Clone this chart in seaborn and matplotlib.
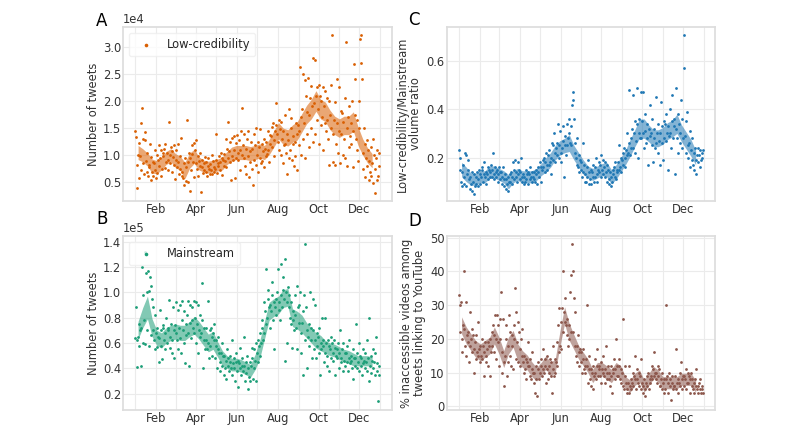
import pandas as pd
import numpy as np
import matplotlib
matplotlib.use('Agg')
import matplotlib.pyplot as plt
import matplotlib.dates as mdates
from matplotlib.ticker import MultipleLocator
import seaborn as sns

# daily values, one row per week starting Wed 2020-01-01
# A: low-credibility tweets, in hundreds
lowcred_daily = [
    145, 133, 82, 40, 100, 122, 58,
    98, 160, 72, 188, 130, 85, 66,
    128, 142, 90, 70, 105, 62, 82,
    78, 120, 55, 96, 70, 88, 62,
    85, 110, 72, 58, 100, 68, 92,
    80, 118, 95, 62, 110, 74, 105,
    98, 112, 76, 120, 88, 105, 72,
    92, 162, 100, 85, 115, 70, 108,
    96, 82, 118, 57, 92, 110, 78,
    88, 120, 65, 98, 75, 132, 62,
    70, 58, 85, 45, 95, 52, 78,
    165, 88, 50, 105, 35, 95, 72,
    102, 118, 88, 122, 60, 110, 128,
    85, 75, 98, 62, 90, 105, 80,
    33, 78, 92, 68, 85, 72, 96,
    70, 88, 62, 80, 95, 74, 66,
    84, 72, 100, 65, 90, 78, 70,
    75, 92, 140, 68, 85, 80, 98,
    88, 72, 105, 95, 64, 92, 80,
    102, 90, 130, 78, 112, 95, 162,
    108, 88, 125, 55, 98, 132, 92,
    110, 135, 58, 122, 95, 138, 105,
    92, 128, 110, 72, 145, 100, 188,
    118, 95, 140, 80, 112, 65, 130,
    98, 145, 60, 108, 88, 125, 75,
    112, 45, 140, 92, 118, 82, 150,
    100, 125, 70, 115, 95, 148, 85,
    120, 90, 108, 130, 78, 112, 98,
    125, 102, 145, 110, 88, 138, 120,
    135, 152, 115, 160, 128, 98, 145,
    155, 196, 140, 125, 165, 110, 148,
    100, 162, 130, 85, 145, 118, 175,
    120, 105, 140, 65, 128, 185, 95,
    110, 150, 168, 92, 135, 120, 80,
    125, 98, 160, 140, 72, 155, 118,
    145, 262, 170, 100, 185, 250, 130,
    160, 238, 95, 210, 180, 140, 242,
    175, 115, 205, 228, 150, 190, 125,
    280, 196, 275, 140, 210, 225, 165,
    185, 230, 120, 210, 155, 200, 170,
    225, 110, 190, 160, 218, 145, 205,
    165, 130, 200, 82, 175, 150, 230,
    322, 88, 140, 165, 82, 198, 120,
    160, 240, 105, 145, 225, 85, 182,
    140, 178, 100, 162, 130, 205, 95,
    308, 150, 80, 170, 115, 190, 135,
    160, 120, 200, 78, 145, 268, 175,
    240, 130, 110, 165, 90, 200, 150,
    315, 322, 270, 240, 105, 75, 150,
    120, 60, 95, 128, 80, 110, 55,
    90, 70, 115, 62, 85, 130, 48,
    100, 30, 75, 95, 55, 110, 62,
    80, 105,
]

# B: mainstream tweets, in thousands
mainstream_daily = [
    64, 88, 62, 41, 65, 75, 58,
    70, 42, 72, 120, 60, 98, 78,
    132, 59, 115, 100, 70, 117, 58,
    101, 112, 105, 66, 95, 88, 70,
    62, 82, 55, 68, 72, 57, 65,
    64, 45, 86, 70, 58, 47, 72,
    74, 62, 55, 68, 80, 60, 70,
    72, 94, 56, 65, 75, 52, 62,
    88, 70, 48, 74, 68, 92, 62,
    55, 86, 72, 90, 64, 52, 78,
    93, 70, 60, 85, 44, 75, 66,
    82, 93, 68, 42, 76, 90, 64,
    78, 88, 72, 93, 68, 80, 92,
    60, 75, 90, 52, 70, 82, 65,
    68, 107, 78, 40, 62, 72, 55,
    62, 72, 55, 93, 60, 48, 70,
    58, 72, 65, 50, 68, 75, 62,
    48, 62, 58, 40, 55, 65, 52,
    45, 38, 52, 60, 42, 50, 35,
    50, 40, 46, 32, 55, 42, 48,
    38, 45, 50, 40, 62, 35, 44,
    48, 40, 30, 45, 52, 38, 46,
    25, 44, 40, 56, 35, 42, 48,
    38, 65, 42, 30, 45, 36, 50,
    24, 40, 33, 45, 30, 42, 56,
    48, 32, 55, 40, 46, 60, 30,
    52, 62, 45, 58, 68, 50, 60,
    72, 78, 62, 92, 68, 85, 75,
    118, 80, 95, 102, 88, 72, 90,
    85, 98, 108, 78, 92, 55, 88,
    95, 82, 100, 118, 86, 92, 78,
    122, 98, 88, 112, 102, 95, 46,
    126, 100, 92, 60, 104, 98, 88,
    80, 92, 75, 56, 85, 78, 70,
    98, 82, 72, 105, 55, 88, 76,
    90, 100, 68, 52, 76, 85, 35,
    98, 138, 62, 88, 40, 70, 65,
    75, 58, 100, 62, 72, 48, 95,
    70, 55, 90, 62, 48, 68, 58,
    65, 52, 72, 35, 60, 55, 80,
    58, 62, 45, 80, 52, 60, 42,
    50, 62, 58, 38, 55, 65, 48,
    60, 52, 46, 62, 35, 56, 50,
    55, 48, 60, 40, 52, 70, 45,
    48, 55, 38, 60, 46, 52, 42,
    52, 45, 58, 38, 48, 62, 44,
    46, 50, 40, 55, 32, 48, 42,
    48, 75, 40, 52, 45, 60, 38,
    50, 42, 48, 35, 55, 44, 46,
    40, 52, 45, 62, 38, 48, 30,
    80, 42, 50, 36, 46, 55, 40,
    45, 35, 52, 65, 38, 44, 14,
    35, 42,
]

# C: low-credibility / mainstream ratio, in hundredths
ratio_daily = [
    23, 15, 20, 10, 14, 8, 17,
    9, 12, 22, 21, 8, 13, 15,
    19, 11, 7, 12, 9, 14, 6,
    10, 5, 13, 8, 12, 9, 14,
    11, 8, 15, 13, 9, 12, 16,
    15, 10, 13, 18, 12, 9, 14,
    13, 16, 11, 15, 12, 14, 17,
    15, 12, 22, 13, 11, 16, 14,
    12, 15, 10, 13, 16, 11, 14,
    14, 9, 12, 16, 11, 8, 13,
    11, 7, 9, 12, 6, 10, 13,
    10, 14, 12, 9, 18, 11, 15,
    19, 12, 14, 10, 18, 13, 15,
    11, 14, 20, 12, 10, 13, 9,
    12, 10, 15, 11, 13, 9, 14,
    13, 11, 16, 12, 10, 14, 12,
    11, 14, 10, 15, 13, 9, 16,
    14, 12, 18, 16, 10, 15, 19,
    16, 20, 14, 18, 22, 15, 17,
    21, 17, 23, 18, 13, 20, 26,
    19, 25, 30, 22, 18, 24, 21,
    26, 34, 20, 25, 31, 22, 18,
    24, 33, 27, 12, 25, 29, 21,
    34, 25, 28, 30, 36, 26, 33,
    25, 42, 44, 47, 36, 22, 26,
    20, 17, 28, 16, 21, 14, 19,
    15, 18, 12, 26, 14, 17, 10,
    13, 10, 16, 12, 19, 14, 9,
    11, 15, 9, 14, 12, 17, 10,
    16, 12, 20, 13, 10, 15, 18,
    14, 17, 12, 21, 15, 13, 19,
    16, 12, 18, 14, 10, 17, 15,
    11, 9, 14, 8, 12, 10, 15,
    13, 16, 12, 18, 11, 15, 14,
    18, 15, 25, 16, 20, 14, 19,
    22, 17, 24, 20, 16, 23, 21,
    30, 22, 26, 48, 21, 28, 24,
    32, 24, 46, 30, 22, 35, 27,
    49, 34, 20, 30, 36, 28, 47,
    28, 35, 47, 30, 24, 38, 31,
    26, 34, 28, 17, 32, 42, 29,
    30, 25, 36, 18, 28, 32, 24,
    45, 26, 30, 22, 34, 27, 17,
    30, 43, 26, 33, 19, 28, 35,
    34, 27, 38, 30, 15, 33, 29,
    40, 30, 24, 35, 46, 28, 33,
    36, 13, 32, 49, 28, 38, 22,
    34, 26, 30, 44, 24, 36, 28,
    57, 71, 29, 22, 35, 39, 25,
    20, 26, 31, 16, 23, 28, 19,
    17, 22, 15, 24, 19, 13, 21,
    24, 18, 21, 16, 23, 19, 22,
    20, 23,
]

# D: % inaccessible YouTube videos
inaccessible_daily = [
    33, 30, 22, 31, 20, 16, 24,
    40, 23, 18, 31, 15, 21, 19,
    22, 13, 28, 18, 20, 16, 23,
    21, 10, 17, 19, 14, 21, 16,
    15, 25, 17, 13, 18, 15, 20,
    14, 18, 9, 16, 19, 15, 13,
    17, 19, 12, 18, 9, 20, 16,
    22, 18, 24, 16, 21, 27, 20,
    14, 27, 19, 24, 12, 20, 26,
    34, 16, 10, 26, 13, 6, 15,
    20, 24, 9, 18, 13, 27, 15,
    22, 12, 21, 18, 11, 24, 20,
    35, 14, 28, 19, 25, 13, 22,
    17, 12, 20, 15, 23, 13, 10,
    15, 11, 14, 8, 13, 19, 12,
    12, 9, 14, 8, 11, 16, 10,
    7, 10, 4, 12, 8, 3, 11,
    13, 8, 10, 14, 12, 9, 11,
    17, 10, 14, 12, 7, 15, 11,
    8, 12, 10, 14, 9, 13, 4,
    11, 18, 9, 14, 10, 13, 12,
    19, 24, 16, 29, 18, 25, 17,
    29, 40, 22, 28, 25, 32, 24,
    26, 21, 18, 24, 20, 34, 22,
    39, 48, 40, 22, 32, 18, 28,
    15, 18, 13, 21, 16, 12, 17,
    13, 16, 10, 14, 17, 11, 12,
    10, 14, 30, 12, 7, 15, 11,
    8, 11, 6, 10, 5, 12, 9,
    10, 14, 8, 12, 17, 9, 11,
    12, 9, 13, 7, 11, 15, 10,
    9, 11, 7, 18, 10, 8, 12,
    8, 10, 6, 12, 9, 4, 11,
    10, 14, 8, 11, 20, 9, 12,
    9, 12, 14, 8, 11, 7, 10,
    6, 26, 5, 9, 12, 7, 4,
    5, 7, 12, 4, 6, 8, 5,
    7, 10, 6, 9, 15, 8, 5,
    8, 11, 7, 10, 6, 9, 14,
    5, 7, 4, 6, 8, 5, 3,
    7, 9, 6, 10, 5, 8, 7,
    9, 12, 8, 11, 16, 9, 10,
    8, 10, 7, 12, 9, 11, 6,
    6, 8, 5, 10, 7, 4, 8,
    5, 8, 30, 9, 7, 4, 10,
    8, 6, 2, 7, 9, 5, 6,
    6, 9, 5, 17, 7, 8, 4,
    7, 10, 6, 13, 8, 5, 9,
    9, 6, 8, 11, 5, 7, 10,
    7, 9, 4, 8, 10, 6, 8,
    5, 7, 4, 8, 6, 11, 5,
    6, 4, 7, 5, 8, 4, 6,
    5, 4,
]

# weekly band: centre and half width (from 2020-01-05, every 7 days)
lowcred_mid = [1.05, 1.0, 0.92, 0.8, 0.78, 0.85, 0.95, 1.0, 0.9, 0.85,
               0.72, 0.9, 0.98, 0.85, 0.8, 0.78, 0.8, 0.82, 0.85, 0.95,
               1.02, 1.05, 1.05, 1.05, 1.03, 1.05, 1.08, 1.05, 1.15, 1.3,
               1.45, 1.35, 1.32, 1.4, 1.45, 1.6, 1.75, 1.85, 2.0, 1.85,
               1.8, 1.65, 1.55, 1.5, 1.55, 1.55, 1.62, 1.35, 1.15, 1.0, 0.9]
lowcred_hw = [0.13, 0.12, 0.12, 0.13, 0.12, 0.12, 0.12, 0.12, 0.13, 0.13,
              0.15, 0.14, 0.13, 0.12, 0.11, 0.11, 0.11, 0.11, 0.12, 0.12,
              0.13, 0.13, 0.13, 0.13, 0.13, 0.13, 0.13, 0.13, 0.14, 0.15,
              0.15, 0.15, 0.15, 0.16, 0.17, 0.17, 0.17, 0.18, 0.19, 0.18,
              0.18, 0.18, 0.17, 0.17, 0.17, 0.17, 0.18, 0.17, 0.15, 0.14, 0.13]
mainstream_mid = [0.70, 0.80, 0.88, 0.72, 0.64, 0.62, 0.66, 0.68, 0.69, 0.68,
                  0.68, 0.71, 0.74, 0.70, 0.65, 0.60, 0.62, 0.55, 0.48, 0.45,
                  0.43, 0.43, 0.42, 0.40, 0.38, 0.45, 0.55, 0.70, 0.85, 0.88,
                  0.90, 0.95, 0.96, 0.80, 0.78, 0.75, 0.70, 0.66, 0.62, 0.60,
                  0.57, 0.55, 0.54, 0.52, 0.50, 0.49, 0.47, 0.46, 0.46, 0.46, 0.45]
mainstream_hw = [0.07, 0.08, 0.09, 0.07, 0.06, 0.06, 0.06, 0.06, 0.06, 0.06,
                 0.06, 0.06, 0.07, 0.07, 0.07, 0.07, 0.07, 0.06, 0.06, 0.05,
                 0.05, 0.05, 0.05, 0.05, 0.05, 0.06, 0.07, 0.07, 0.07, 0.07,
                 0.07, 0.07, 0.07, 0.07, 0.07, 0.07, 0.06, 0.06, 0.06, 0.06,
                 0.05, 0.05, 0.05, 0.05, 0.05, 0.05, 0.05, 0.04, 0.04, 0.04, 0.04]
ratio_mid = [0.15, 0.13, 0.11, 0.11, 0.12, 0.12, 0.14, 0.14, 0.13, 0.12,
             0.10, 0.12, 0.13, 0.12, 0.12, 0.12, 0.13, 0.15, 0.17, 0.19,
             0.22, 0.24, 0.25, 0.26, 0.22, 0.19, 0.16, 0.14, 0.13, 0.14,
             0.15, 0.15, 0.12, 0.14, 0.17, 0.20, 0.24, 0.28, 0.32, 0.32,
             0.30, 0.28, 0.28, 0.29, 0.31, 0.32, 0.34, 0.30, 0.27, 0.24, 0.20]
ratio_hw = [0.03, 0.03, 0.025, 0.025, 0.025, 0.025, 0.025, 0.025, 0.025, 0.025,
            0.03, 0.025, 0.025, 0.025, 0.025, 0.025, 0.025, 0.025, 0.03, 0.03,
            0.03, 0.03, 0.03, 0.035, 0.03, 0.03, 0.03, 0.025, 0.025, 0.025,
            0.025, 0.03, 0.03, 0.03, 0.03, 0.03, 0.035, 0.035, 0.04, 0.04,
            0.035, 0.035, 0.035, 0.035, 0.035, 0.035, 0.04, 0.035, 0.035, 0.035, 0.03]
inaccessible_mid = [24, 21, 19, 17, 16, 17, 18, 21, 18, 14,
                    18, 20, 16, 14, 13, 11, 9.5, 11, 13, 11,
                    12, 20, 27, 22, 19, 16, 14, 12, 9, 11,
                    11, 10, 9, 11, 10, 7, 6, 8, 9, 6,
                    8, 10, 9, 7, 7, 7, 7, 8, 8, 8, 6]
inaccessible_hw = [2.5, 2.5, 2.5, 2.5, 2.5, 2.5, 2.5, 2.5, 2.5, 2.5,
                   2.5, 2.5, 2.5, 2.5, 2.2, 2.2, 2.0, 2.0, 2.0, 2.0,
                   2.0, 2.2, 2.5, 2.5, 2.2, 2.0, 2.0, 2.0, 2.0, 2.0,
                   2.0, 2.0, 2.0, 2.0, 2.0, 1.8, 1.8, 1.8, 1.8, 1.8,
                   1.8, 1.8, 1.8, 1.8, 1.8, 1.8, 1.8, 1.8, 1.8, 1.8, 1.8]

days = pd.date_range('2020-01-01', '2020-12-31', freq='D')
weeks = pd.date_range('2020-01-05', periods=len(lowcred_mid), freq='7D')

FS = 8.3
TXT = '0.2'


def draw_panel(ax, daily, unit, mid, hw, band_unit, color, label=None):
    df = pd.DataFrame({'date': days, 'value': np.array(daily, dtype=float) * unit})
    mid = np.array(mid) * band_unit
    hw = np.array(hw) * band_unit
    ax.fill_between(weeks, mid - hw, mid + hw, color=color, alpha=0.55,
                    linewidth=0, zorder=2)
    sns.scatterplot(data=df, x='date', y='value', ax=ax, color=color, s=4,
                    linewidth=0, label=label, zorder=3, legend=bool(label))
    ax.set_xlabel('')
    ax.xaxis.set_major_locator(mdates.MonthLocator(bymonth=[2, 4, 6, 8, 10, 12]))
    ax.xaxis.set_minor_locator(mdates.MonthLocator())
    ax.xaxis.set_major_formatter(mdates.DateFormatter('%b'))
    ax.grid(which='both', axis='x', color='#ebebeb', linewidth=0.8)
    ax.grid(which='major', axis='y', color='#ebebeb', linewidth=0.8)
    ax.tick_params(labelsize=FS, pad=1.5, colors=TXT, which='both', length=0)
    for s in ax.spines.values():
        s.set_color('#dddddd')
    if label:
        leg = ax.legend(loc='upper left', fontsize=FS, frameon=True,
                        handletextpad=0.8, borderpad=0.45, markerscale=1.3)
        leg.get_frame().set_edgecolor('#eeeeee')


sns.set_theme(style='whitegrid')
fig, axes = plt.subplots(2, 2, figsize=(8, 4.25), dpi=100)
fig.subplots_adjust(left=0.154, right=0.894, top=0.936, bottom=0.036,
                    wspace=0.205, hspace=0.205)
ax_a, ax_c = axes[0]
ax_b, ax_d = axes[1]

draw_panel(ax_a, lowcred_daily, 100, lowcred_mid, lowcred_hw, 1e4,
           '#d95f02', 'Low-credibility')
ax_a.set_ylim(1630, 33600)
ax_a.yaxis.set_major_locator(MultipleLocator(5000))
ax_a.ticklabel_format(axis='y', style='sci', scilimits=(0, 0))
ax_a.set_ylabel('Number of tweets', fontsize=FS, color=TXT, labelpad=2)

draw_panel(ax_b, mainstream_daily, 1000, mainstream_mid, mainstream_hw, 1e5,
           '#1b9e77', 'Mainstream')
ax_b.set_ylim(7400, 144200)
ax_b.yaxis.set_major_locator(MultipleLocator(20000))
ax_b.ticklabel_format(axis='y', style='sci', scilimits=(0, 0))
ax_b.set_ylabel('Number of tweets', fontsize=FS, color=TXT, labelpad=2)

draw_panel(ax_c, ratio_daily, 0.01, ratio_mid, ratio_hw, 1, '#1f77b4')
ax_c.set_ylim(0.021, 0.741)
ax_c.yaxis.set_major_locator(MultipleLocator(0.2))
ax_c.set_ylabel('Low-credibility/Mainstream\nvolume ratio', fontsize=FS,
                color=TXT, linespacing=1.0, labelpad=3)

draw_panel(ax_d, inaccessible_daily, 1, inaccessible_mid, inaccessible_hw, 1,
           '#8c564b')
ax_d.set_ylim(-1, 50.4)
ax_d.yaxis.set_major_locator(MultipleLocator(10))
ax_d.set_ylabel('% inaccessible videos among\ntweets linking to YouTube',
                fontsize=FS, color=TXT, linespacing=1.0, labelpad=3)

for ax in (ax_a, ax_b):
    ax.yaxis.get_offset_text().set_fontsize(FS)
    ax.yaxis.get_offset_text().set_color(TXT)

for letter, x, y in [('A', 102, 21), ('B', 102, 219), ('C', 414, 20), ('D', 415, 221)]:
    fig.text(x / 800, 1 - y / 425, letter, fontsize=12, color='black',
             ha='center', va='center')

fig.savefig('out.png', dpi=100)
